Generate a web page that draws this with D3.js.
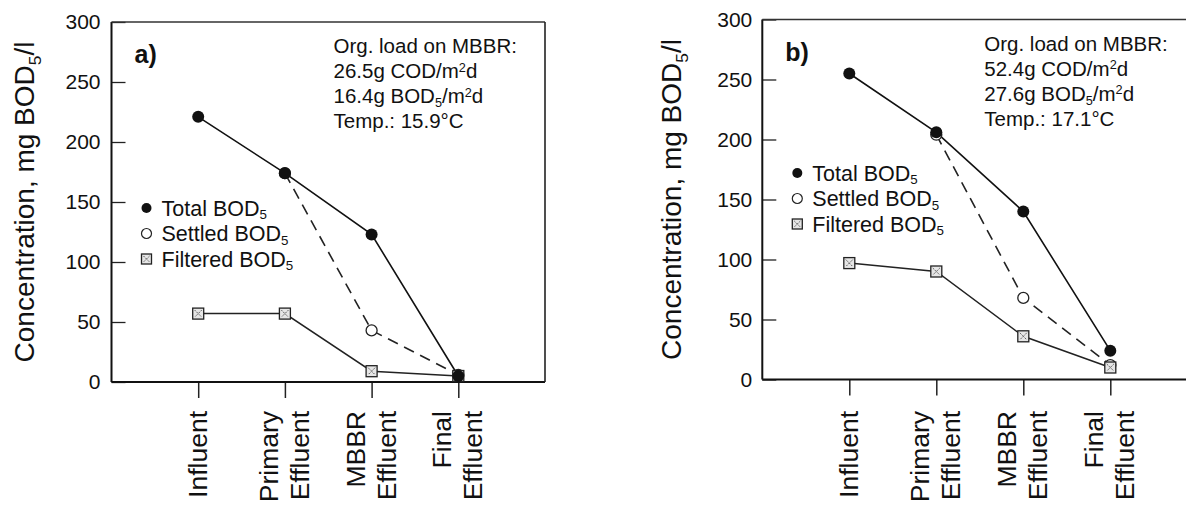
<!DOCTYPE html>
<html><head><meta charset="utf-8">
<script src="https://cdn.jsdelivr.net/npm/d3@7"></script>
<style>
body{margin:0;background:#fff}
svg{display:block}
text{font-family:"Liberation Sans",Arial,Helvetica,sans-serif;fill:#111}
</style>
</head><body>
<svg id="c" width="1186" height="508"></svg>
<script>
// ---------- data ----------
const categories = [["Influent"], ["Primary", "Effluent"], ["MBBR", "Effluent"], ["Final", "Effluent"]];
const yTicks = [0, 50, 100, 150, 200, 250, 300];
const seriesNames = ["Total BOD", "Settled BOD", "Filtered BOD"];

const totalA    = [221, 174, 123, 5];
const settledA  = [null, 174, 43, 6];
const filteredA = [57, 57, 9, 5];

const totalB    = [255, 206, 140, 24];
const settledB  = [null, 204, 68, 12];
const filteredB = [97, 90, 36, 10];

const noteA = [
  [["Org. load on MBBR:"]],
  [["26.5g COD/m"], ["2", "sup"], ["d"]],
  [["16.4g BOD"], ["5", "sub"], ["/m"], ["2", "sup"], ["d"]],
  [["Temp.: 15.9°C"]]
];
const noteB = [
  [["Org. load on MBBR:"]],
  [["52.4g COD/m"], ["2", "sup"], ["d"]],
  [["27.6g BOD"], ["5", "sub"], ["/m"], ["2", "sup"], ["d"]],
  [["Temp.: 17.1°C"]]
];
const yTitle = [["Concentration, mg BOD"], ["5", "sub"], ["/l"]];

// ---------- layout ----------
const panels = [
  { label: "a)", total: totalA, settled: settledA, filtered: filteredA, note: noteA,
    x0: 111.5, step: 86.7, yTop: 22, yBot: 382, titleX: 34, tickPad: 11, legendTop: 208 },
  { label: "b)", total: totalB, settled: settledB, filtered: filteredB, note: noteB,
    x0: 762.3, step: 87, yTop: 19.5, yBot: 379.5, titleX: 681, tickPad: 10, legendTop: 173 }
];

const svg = d3.select("#c");

function rich(textSel, segs, subShift = 0.24, supShift = -0.34) {
  let shift = 0;
  segs.forEach(([s, kind]) => {
    const target = kind === "sub" ? subShift : kind === "sup" ? supShift : 0;
    const t = textSel.append("tspan").text(s).attr("dy", (target - shift) + "em");
    if (kind) t.style("font-size", "0.62em").attr("dy", ((target - shift) / 0.62) + "em");
    shift = target;
  });
}

function squareMarker(g, cx, cy, s) {
  const h = s / 2;
  g.append("rect").attr("x", cx - h).attr("y", cy - h).attr("width", s).attr("height", s)
    .attr("fill", "#e6e6e6").attr("stroke", "#222").attr("stroke-width", 1.3);
  g.append("path")
    .attr("d", `M${cx - h + 2},${cy - h + 2}L${cx + h - 2},${cy + h - 2}M${cx + h - 2},${cy - h + 2}L${cx - h + 2},${cy + h - 2}`)
    .attr("stroke", "#555").attr("stroke-width", 1).attr("stroke-dasharray", "1.5,1");
}

panels.forEach(p => {
  const x = d3.scaleLinear().domain([-1, 4]).range([p.x0, p.x0 + 5 * p.step]);
  const y = d3.scaleLinear().domain([0, 300]).range([p.yBot, p.yTop]);
  const x1 = x(4);
  const g = svg.append("g");

  // y axis ticks (inward) + labels
  const ya = g.append("g").attr("transform", `translate(${p.x0},0)`)
    .call(d3.axisLeft(y).tickValues(yTicks).tickSize(-14).tickPadding(p.tickPad));
  ya.select(".domain").remove();
  ya.selectAll("line").attr("stroke", "#222").attr("stroke-width", 1.3);
  ya.selectAll("text").style("font-size", "21px").attr("fill", "#111")
    .style("font-family", '"Liberation Sans",Arial,sans-serif');

  // x axis ticks (outward)
  const xa = g.append("g").attr("transform", `translate(0,${p.yBot})`)
    .call(d3.axisBottom(x).tickValues(d3.range(categories.length)).tickSize(16).tickFormat(""));
  xa.select(".domain").remove();
  xa.selectAll("line").attr("stroke", "#222").attr("stroke-width", 1.5);

  // frame
  g.append("line").attr("x1", p.x0).attr("x2", p.x0).attr("y1", p.yTop).attr("y2", p.yBot)
    .attr("stroke", "#111").attr("stroke-width", 2);
  g.append("line").attr("x1", p.x0).attr("x2", x1).attr("y1", p.yBot).attr("y2", p.yBot)
    .attr("stroke", "#111").attr("stroke-width", 2);
  g.append("line").attr("x1", p.x0).attr("x2", x1).attr("y1", p.yTop).attr("y2", p.yTop)
    .attr("stroke", "#333").attr("stroke-width", 1.4);
  g.append("line").attr("x1", x1).attr("x2", x1).attr("y1", p.yTop).attr("y2", p.yBot)
    .attr("stroke", "#222").attr("stroke-width", 1.6);

  // category labels (rotated, slightly elongated like the scan)
  categories.forEach((lines, i) => {
    const n = lines.length;
    lines.forEach((ln, j) => {
      const off = n === 1 ? 9 : (j === 0 ? -7 : 24);
      g.append("text")
        .attr("transform", `translate(${x(i) + off},411) rotate(-90) scale(1.06,1)`)
        .attr("text-anchor", "end").style("font-size", "25px").text(ln);
    });
  });

  // y title
  const tt = g.append("text")
    .attr("transform", `translate(${p.titleX},${(p.yTop + p.yBot) / 2}) rotate(-90)`)
    .attr("text-anchor", "middle").style("font-size", "28px");
  rich(tt, yTitle);

  // lines
  const line = d3.line().defined(d => d[1] != null).x(d => x(d[0])).y(d => y(d[1]));
  const pts = arr => arr.map((v, i) => [i, v]);
  g.append("path").datum(pts(p.filtered)).attr("d", line)
    .attr("fill", "none").attr("stroke", "#222").attr("stroke-width", 1.5);
  g.append("path").datum(pts(p.settled)).attr("d", line)
    .attr("fill", "none").attr("stroke", "#222").attr("stroke-width", 1.6).attr("stroke-dasharray", "11,7");
  g.append("path").datum(pts(p.total)).attr("d", line)
    .attr("fill", "none").attr("stroke", "#111").attr("stroke-width", 1.6);

  // markers
  pts(p.settled).filter(d => d[1] != null).forEach(d => {
    g.append("circle").attr("cx", x(d[0])).attr("cy", y(d[1])).attr("r", 5.5)
      .attr("fill", "#fff").attr("stroke", "#222").attr("stroke-width", 1.3);
  });
  pts(p.filtered).forEach(d => squareMarker(g, x(d[0]), y(d[1]), 11));
  pts(p.total).forEach(d => {
    g.append("circle").attr("cx", x(d[0])).attr("cy", y(d[1])).attr("r", 6)
      .attr("fill", "#111");
  });

  // panel label
  g.append("text").attr("x", p.x0 + 23).attr("y", p.yTop + 41)
    .style("font-size", "25px").style("font-weight", "bold").text(p.label);

  // annotation
  p.note.forEach((segs, i) => {
    const t = g.append("text").attr("x", p.x0 + 222).attr("y", p.yTop + 31 + i * 25)
      .style("font-size", "20.5px");
    rich(t, segs, 0.2, -0.3);
  });

  // legend
  seriesNames.forEach((nm, i) => {
    const cy = p.legendTop + i * 25.5;
    const mx = p.x0 + 35;
    if (i === 0) g.append("circle").attr("cx", mx).attr("cy", cy).attr("r", 5).attr("fill", "#111");
    else if (i === 1) g.append("circle").attr("cx", mx).attr("cy", cy).attr("r", 5)
      .attr("fill", "#fff").attr("stroke", "#222").attr("stroke-width", 1.2);
    else squareMarker(g, mx, cy, 10);
    const t = g.append("text").attr("x", p.x0 + 50).attr("y", cy + 7.5).style("font-size", "21.5px");
    rich(t, [[nm], ["5", "sub"]], 0.18);
  });
});
</script>
</body></html>
